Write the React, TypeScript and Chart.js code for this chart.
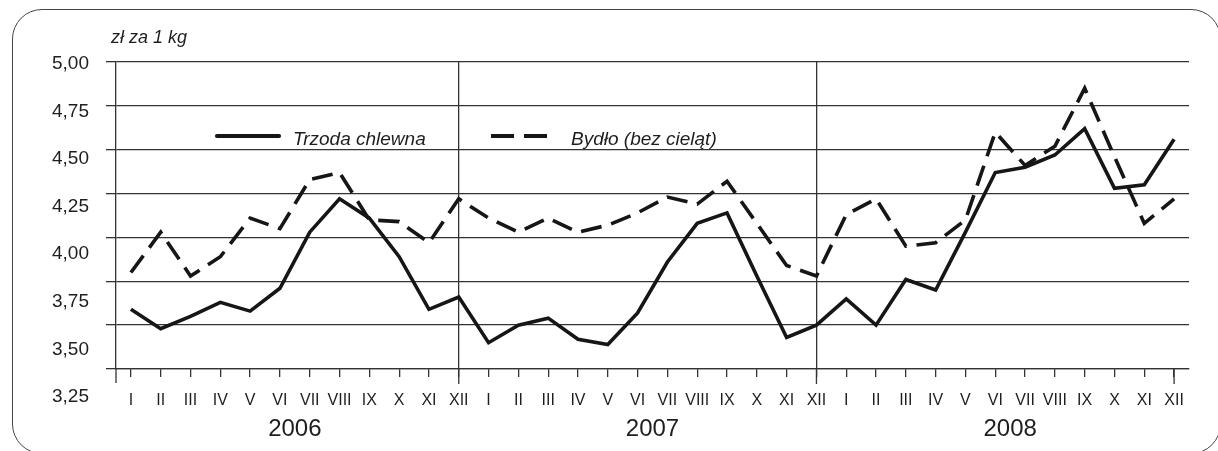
import React, { useEffect, useRef } from 'react';
import { Chart, registerables } from 'chart.js';

Chart.register(...registerables);

const months = ['I', 'II', 'III', 'IV', 'V', 'VI', 'VII', 'VIII', 'IX', 'X', 'XI', 'XII'];
const monthLabels = [...months, ...months, ...months];
const yearLabels = ['2006', '2007', '2008'];
const yTickLabels = ['3,25', '3,50', '3,75', '4,00', '4,25', '4,50', '4,75', '5,00'];
const unitLabel = 'zł za 1 kg';
const seriesNames = ['Trzoda chlewna', 'Bydło (bez cieląt)'];

// Trzoda chlewna (2006-2008, monthly)
const trzoda = [
  3.59, 3.48, 3.55, 3.63, 3.58, 3.71, 4.03, 4.22, 4.11, 3.89, 3.59, 3.66,
  3.40, 3.50, 3.54, 3.42, 3.39, 3.57, 3.86, 4.08, 4.14, 3.78, 3.43, 3.50,
  3.65, 3.50, 3.76, 3.70, 4.03, 4.37, 4.40, 4.47, 4.62, 4.28, 4.30, 4.56,
];
// Bydło (bez cieląt)
const bydlo = [
  3.80, 4.03, 3.78, 3.89, 4.11, 4.05, 4.33, 4.37, 4.10, 4.09, 3.97, 4.22,
  4.11, 4.03, 4.11, 4.03, 4.07, 4.14, 4.23, 4.19, 4.32, 4.08, 3.84, 3.78,
  4.13, 4.22, 3.95, 3.97, 4.10, 4.60, 4.41, 4.52, 4.85, 4.46, 4.08, 4.22,
];

const yTickValues = yTickLabels.map((s) => parseFloat(s.replace(',', '.')));
const yearEndIdx = [11, 23];

const GRID = '#333333';
const TEXT = '#1e1e1e';
const LINE = '#161616';
const FONT = "'Liberation Sans', Arial, Helvetica, sans-serif";
const FONT_NARROW = "'Liberation Sans Narrow', 'Liberation Sans', Arial, sans-serif";

const decorPlugin = {
  id: 'decor',
  afterDraw(chart: any) {
    const ctx = chart.ctx as CanvasRenderingContext2D;
    const { left, bottom } = chart.chartArea;
    const xs = chart.scales.x;
    ctx.save();
    ctx.strokeStyle = GRID;
    ctx.lineWidth = 1.3;
    ctx.beginPath();
    ctx.moveTo(left, bottom);
    ctx.lineTo(left, bottom + 14);
    ctx.stroke();
    [11, 23, 35].forEach((i) => {
      const px = xs.getPixelForTick(i);
      ctx.beginPath();
      ctx.moveTo(px, bottom);
      ctx.lineTo(px, bottom + 15);
      ctx.stroke();
    });

    ctx.fillStyle = TEXT;
    ctx.textAlign = 'left';
    ctx.textBaseline = 'alphabetic';
    ctx.font = `italic 18px ${FONT}`;
    ctx.fillText(unitLabel, 111, 43);

    const items = [
      { x0: 217, x1: 279, tx: 293 },
      { x0: 491, x1: 547, tx: 571 },
    ];
    chart.data.datasets.forEach((ds: any, i: number) => {
      const it = items[i];
      ctx.strokeStyle = ds.borderColor;
      ctx.lineWidth = 4.2;
      ctx.lineCap = ds.borderDash && ds.borderDash.length ? 'butt' : 'round';
      ctx.setLineDash(ds.borderDash && ds.borderDash.length ? [23, 10] : []);
      ctx.beginPath();
      ctx.moveTo(it.x0, 136);
      ctx.lineTo(it.x1, 136);
      ctx.stroke();
      ctx.setLineDash([]);
      ctx.fillStyle = TEXT;
      ctx.font = `italic 19px ${FONT}`;
      ctx.fillText(ds.label, it.tx, 145);
    });
    ctx.restore();
  },
};

export default function App() {
  const ref = useRef<HTMLCanvasElement | null>(null);

  useEffect(() => {
    if (!ref.current) return;
    const chart = new Chart(ref.current, {
      type: 'line',
      data: {
        labels: monthLabels,
        datasets: [
          {
            label: seriesNames[0],
            data: trzoda,
            borderColor: LINE,
            borderWidth: 3.6,
            pointRadius: 0,
            tension: 0,
            borderJoinStyle: 'miter',
            borderCapStyle: 'butt',
            fill: false,
          },
          {
            label: seriesNames[1],
            data: bydlo,
            borderColor: LINE,
            borderWidth: 3.6,
            borderDash: [21, 10],
            pointRadius: 0,
            tension: 0,
            borderJoinStyle: 'miter',
            borderCapStyle: 'butt',
            fill: false,
          },
        ],
      },
      options: {
        responsive: false,
        maintainAspectRatio: false,
        animation: false,
        devicePixelRatio: 1,
        layout: { padding: { left: 0, top: 62, right: 29, bottom: 0 } },
        plugins: {
          legend: { display: false },
          title: { display: false },
          tooltip: { enabled: false },
        },
        scales: {
          x: {
            type: 'category',
            position: 'bottom',
            offset: true,
            weight: 0,
            grid: {
              offset: false,
              color: (c: any) => (yearEndIdx.includes(c.index) ? GRID : 'rgba(0,0,0,0)'),
              tickColor: GRID,
              tickLength: 8,
              lineWidth: 1.3,
            },
            border: { display: true, color: GRID, width: 1.3 },
            ticks: {
              autoSkip: false,
              maxRotation: 0,
              minRotation: 0,
              padding: 14,
              color: TEXT,
              font: { family: FONT_NARROW, size: 16 },
            },
            afterFit: (s: any) => {
              s.height = 44;
            },
          },
          xYear: {
            type: 'category',
            axis: 'x',
            labels: yearLabels,
            position: 'bottom',
            offset: true,
            weight: 1,
            grid: { display: false, drawTicks: false },
            border: { display: false },
            ticks: {
              padding: 2,
              color: TEXT,
              font: { family: FONT, size: 24 },
              maxRotation: 0,
            },
            afterFit: (s: any) => {
              s.height = 38;
            },
          },
          y: {
            type: 'linear',
            position: 'left',
            min: 3.25,
            max: 5.0,
            weight: 0,
            ticks: { display: false },
            afterBuildTicks: (s: any) => {
              s.ticks = yTickValues.map((v) => ({ value: v }));
            },
            grid: { color: GRID, lineWidth: 1.3, tickLength: 10, tickColor: GRID },
            border: { display: true, color: GRID, width: 1.3 },
            afterFit: (s: any) => {
              s.width = 10;
            },
          },
          yLabels: {
            type: 'linear',
            axis: 'y',
            position: 'left',
            min: 3.397,
            max: 5.009,
            weight: 1,
            grid: { display: false, drawTicks: false },
            border: { display: false },
            afterBuildTicks: (s: any) => {
              s.ticks = yTickValues.map((v) => ({ value: v }));
            },
            ticks: {
              autoSkip: false,
              padding: 17,
              color: TEXT,
              font: { family: FONT, size: 19 },
              callback: (_v: any, i: number) => yTickLabels[i],
            },
            afterFit: (s: any) => {
              s.width = 106;
            },
          },
        },
      },
      plugins: [decorPlugin],
    } as any);
    return () => chart.destroy();
  }, []);

  return (
    <div
      style={{
        position: 'fixed',
        left: 0,
        top: 0,
        width: 1218,
        height: 451,
        overflow: 'hidden',
        background: '#fff',
      }}
    >
      <canvas
        ref={ref}
        width={1218}
        height={451}
        style={{ position: 'absolute', left: 0, top: 0, width: 1218, height: 451 }}
      />
      <div
        style={{
          position: 'absolute',
          left: 12,
          top: 9,
          width: 1209,
          height: 445,
          border: '1.5px solid #444',
          borderRadius: 30,
          boxSizing: 'border-box',
          pointerEvents: 'none',
        }}
      />
    </div>
  );
}
